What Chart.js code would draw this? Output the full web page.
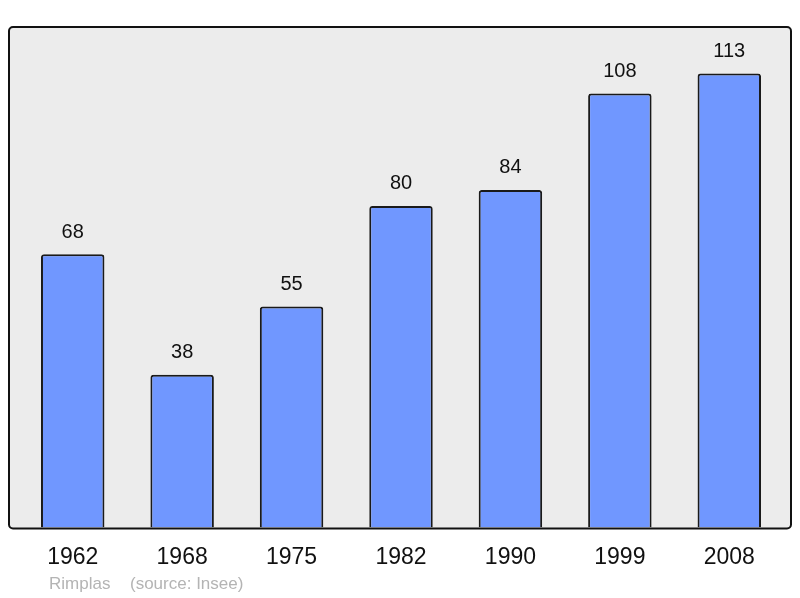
<!DOCTYPE html>
<html>
<head>
<meta charset="utf-8">
<script src="https://cdn.jsdelivr.net/npm/chart.js@4"></script>
<style>
  html, body { margin: 0; padding: 0; background: #fff; }
  #wrap { width: 800px; height: 598px; }
</style>
</head>
<body>
<div id="wrap"><canvas id="popChart"></canvas></div>
<script>
// Population data
const years = ["1962", "1968", "1975", "1982", "1990", "1999", "2008"];
const population = [68, 38, 55, 80, 84, 108, 113];
const captionName = "Rimplas";
const captionSource = "(source: Insee)";

// grey box around the plot, slightly wider than the bar area
function boxPath(ctx, a) {
  ctx.beginPath();
  ctx.roundRect(a.left - 9, a.top - 1, a.right - a.left + 16, a.bottom - a.top + 2, 4);
}

// background box, value labels and caption
const decorPlugin = {
  id: "decor",
  beforeDraw(chart) {
    const { ctx, chartArea: a } = chart;
    ctx.save();
    boxPath(ctx, a);
    ctx.fillStyle = "#ececec";
    ctx.fill();
    ctx.restore();
  },
  afterDatasetsDraw(chart) {
    const { ctx, chartArea: a } = chart;
    ctx.save();
    boxPath(ctx, a);
    ctx.lineWidth = 2;
    ctx.strokeStyle = "#111";
    ctx.stroke();

    ctx.fillStyle = "#111";
    ctx.font = "20px 'Liberation Sans', Arial, sans-serif";
    ctx.textAlign = "center";
    ctx.textBaseline = "middle";
    const meta = chart.getDatasetMeta(0);
    meta.data.forEach((bar, i) => {
      ctx.fillText(String(population[i]), bar.x, bar.y - 22);
    });

    ctx.fillStyle = "#b4b4b4";
    ctx.font = "17px 'Liberation Sans', Arial, sans-serif";
    ctx.textAlign = "left";
    ctx.fillText(captionName, 49, 584);
    ctx.fillText(captionSource, 130, 584);
    ctx.restore();
  },
};

const popChart = new Chart(document.getElementById("popChart"), {
  type: "bar",
  data: {
    labels: years,
    datasets: [
      {
        data: population,
        backgroundColor: "#7097ff",
        borderColor: "#1a1a1a",
        borderWidth: 2,
        borderRadius: 3,
        borderSkipped: "bottom",
        barPercentage: 0.58,
        categoryPercentage: 1,
      },
    ],
  },
  options: {
    responsive: true,
    maintainAspectRatio: false,
    animation: false,
    layout: { padding: { left: 18, right: 16, top: 28, bottom: 11 } },
    plugins: { legend: { display: false }, tooltip: { enabled: false } },
    scales: {
      x: {
        grid: { display: false, drawTicks: false },
        border: { display: false },
        ticks: {
          color: "#111",
          padding: 16,
          font: { size: 23, family: "'Liberation Sans', Arial, sans-serif" },
        },
      },
      y: {
        display: false,
        min: 0,
        max: 124.3,
      },
    },
  },
  plugins: [decorPlugin],
});
</script>
</body>
</html>
